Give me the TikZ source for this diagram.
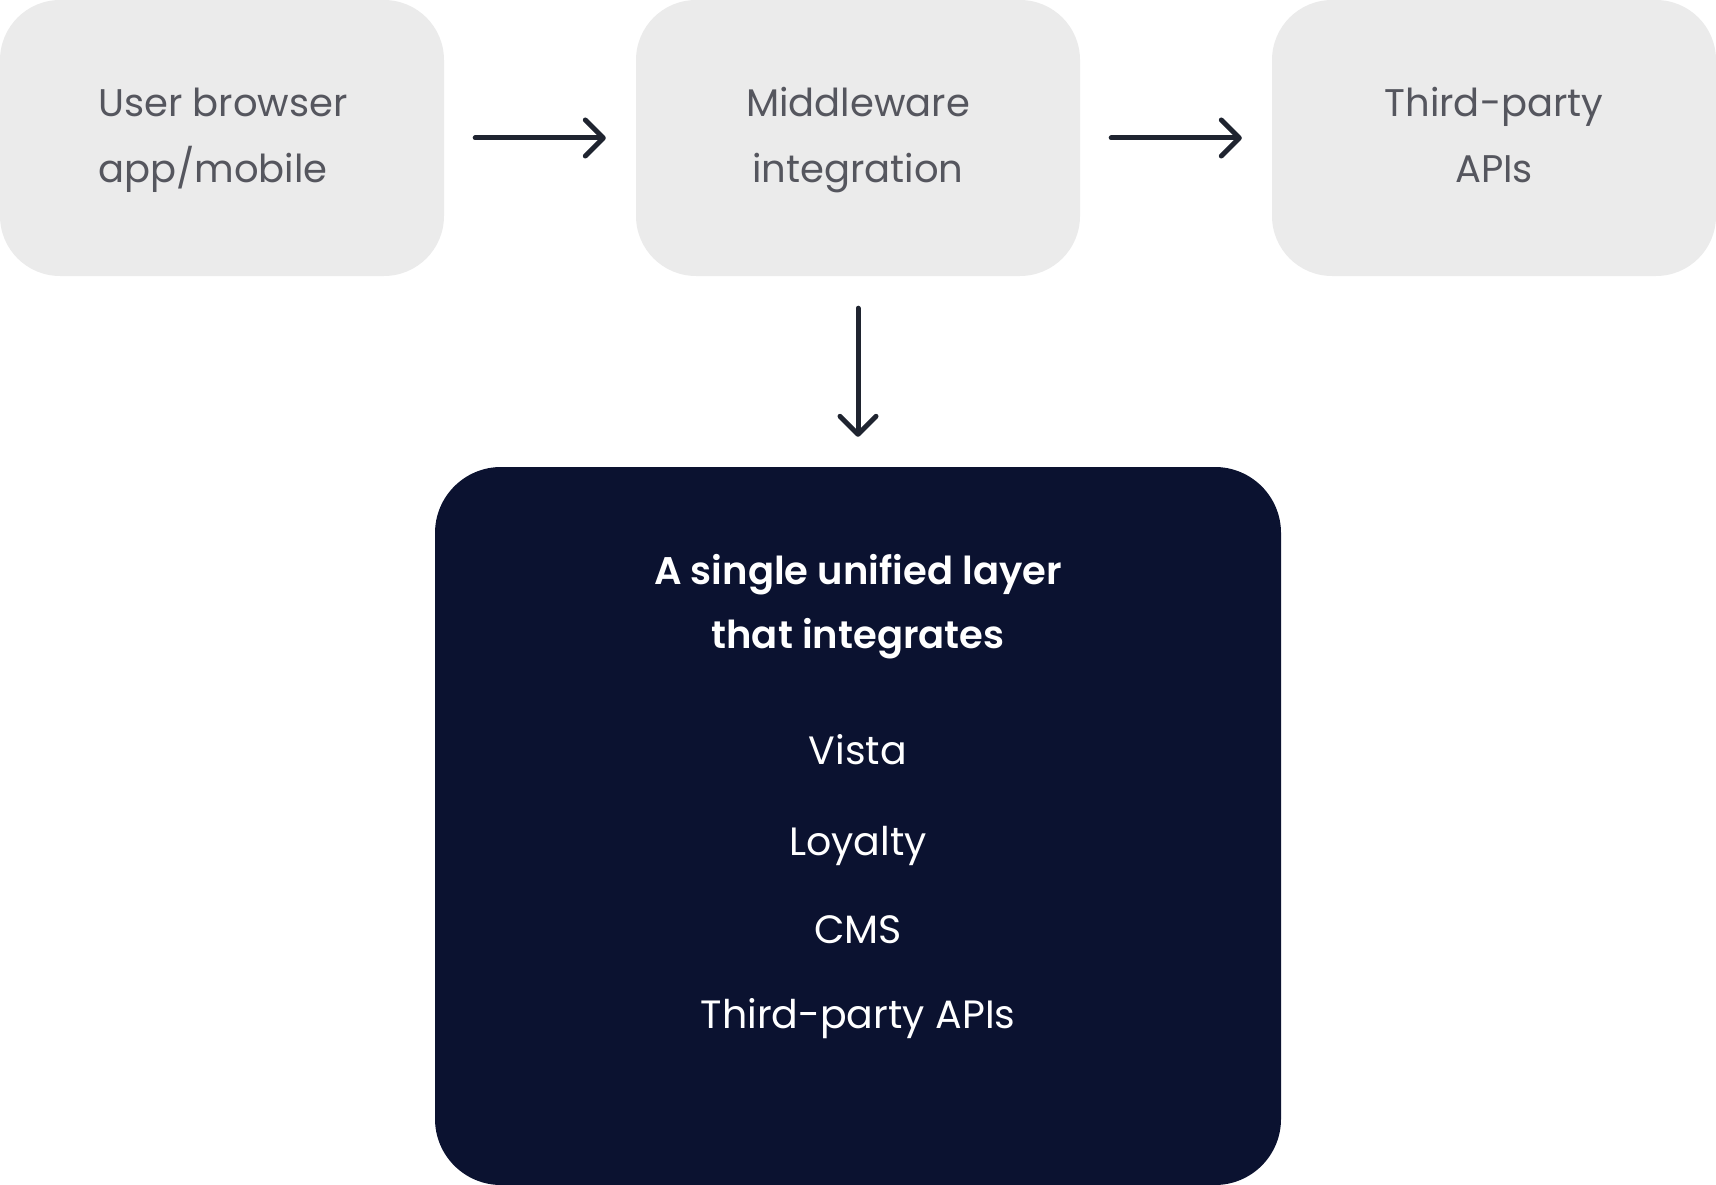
\documentclass[tikz,border=0pt]{standalone}
\usepackage{fontspec}
\setmainfont{Poppins}
\IfFontExistsTF{Poppins SemiBold}{\newfontfamily\titlefont{Poppins SemiBold}}{\newfontfamily\titlefont{Poppins}[UprightFont=*-Bold]}
\usetikzlibrary{arrows.meta}
\definecolor{boxgray}{HTML}{EBEBEB}
\definecolor{navy}{HTML}{0B1230}
\definecolor{txtgray}{HTML}{55565E}
\definecolor{arrowc}{HTML}{1F2430}
\tikzset{
  graybox/.style={draw=none, fill=boxgray, rounded corners=60pt, minimum width=444pt, minimum height=276pt, inner sep=0pt},
  navybox/.style={draw=none, fill=navy, rounded corners=66pt, minimum width=846pt, minimum height=718pt, inner sep=0pt},
  graytxt/.style={text=txtgray, font=\fontsize{38.5}{66}\selectfont, inner sep=0pt},
  titletxt/.style={text=white, font=\titlefont\fontsize{38.5}{64}\selectfont, inner sep=0pt, anchor=base},
  listtxt/.style={text=white, font=\fontsize{39.5}{64}\selectfont, inner sep=0pt, anchor=base},
  flow/.style={draw=arrowc, line width=5pt, line cap=round,
    -{Straight Barb[length=18pt, width=36pt, line cap=round, line join=round]}}
}
\begin{document}
\begin{tikzpicture}[x=1pt,y=-1pt]
\useasboundingbox (0,0) rectangle (1716,1185);
\node[graybox] (user) at (222,138) {};
\node[graybox] (mid) at (858,138) {};
\node[graybox] (third) at (1494,138) {};
\node[navybox] (layer) at (858,826) {};
% gray box texts
\node[graytxt, anchor=base west] (u1) at (98,117) {User browser};
\node[graytxt, anchor=base west] (u2) at (98,183) {app/mobile};
\node[graytxt, anchor=base] (m1) at (858,117) {Middleware};
\node[graytxt, anchor=base] (m2) at (858,183) {integration};
\node[graytxt, anchor=base] (t1) at (1494,117) {Third-party};
\node[graytxt, anchor=base] (t2) at (1494,183) {APIs};
% dark box texts
\node[titletxt] (h1) at (858,584) {A single unified layer};
\node[titletxt] (h2) at (858,648) {that integrates};
\node[listtxt] (l1) at (858,764) {Vista};
\node[listtxt] (l2) at (858,855) {Loyalty};
\node[listtxt] (l3) at (858,943) {CMS};
\node[listtxt] (l4) at (858,1028) {Third-party APIs};
% connectors
\draw[flow, shorten <=31pt, shorten >=30pt] (user.east) -- (mid.west);
\draw[flow, shorten <=31pt, shorten >=30pt] (mid.east) -- (third.west);
\draw[flow, shorten <=32pt, shorten >=30pt] (mid.south) -- (layer.north);
\end{tikzpicture}
\end{document}
